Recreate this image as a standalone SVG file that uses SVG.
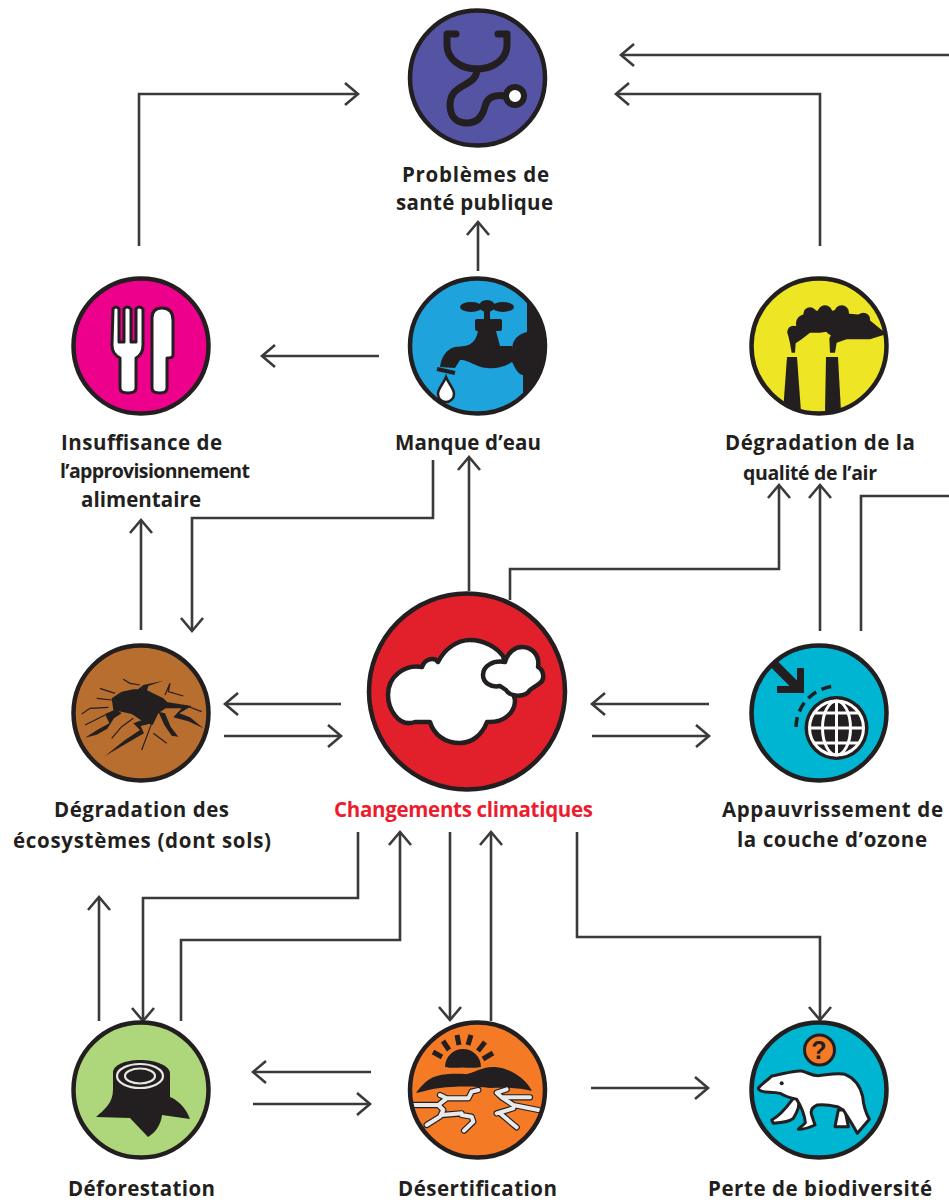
<svg xmlns="http://www.w3.org/2000/svg" width="949" height="1202" viewBox="0 0 949 1202">
<style>
.c{stroke:#231f20;stroke-width:4.5}
.d{fill:#231f20}
.l{font-family:"Open Sans","Liberation Sans",sans-serif;font-weight:700;font-size:20.5px;fill:#231f20;text-anchor:middle}
.a{fill:none;stroke:#3a3a3c;stroke-width:2.6;marker-end:url(#h)}
.s{fill:none;stroke:#231f20}
</style>
<defs>
<marker id="h" markerUnits="userSpaceOnUse" markerWidth="30" markerHeight="30" refX="15" refY="15" orient="auto" overflow="visible"><path d="M2,4 L15,15 L2,26" fill="none" stroke="#3a3a3c" stroke-width="2.6"/></marker>
</defs>
<rect width="949" height="1202" fill="#fff"/>
<g id="connectors">
<path class="a" d="M949,55H621"/>
<path class="a" d="M820,246V94H616"/>
<path class="a" d="M139,246V94H358"/>
<path class="a" d="M478,271V222"/>
<path class="a" d="M379,356H262"/>
<path class="a" d="M469,591V457"/>
<path class="a" d="M433,460V518H192V631"/>
<path class="a" d="M141,630V520"/>
<path class="a" d="M510,600V569H779V485"/>
<path class="a" d="M820,631V485"/>
<path class="a" d="M861,631V496H949" style="marker-end:none"/>
<path class="a" d="M341,704H225"/>
<path class="a" d="M224,736H341"/>
<path class="a" d="M709,704H592"/>
<path class="a" d="M592,736H709"/>
<path class="a" d="M358,832V898H143V1021"/>
<path class="a" d="M99,1021V897"/>
<path class="a" d="M181,1021V940H400V832"/>
<path class="a" d="M450,832V1020"/>
<path class="a" d="M491,1021V832"/>
<path class="a" d="M577,832V937H820V1020"/>
<path class="a" d="M371,1072H253"/>
<path class="a" d="M253,1104H370"/>
<path class="a" d="M591,1088H708"/>
</g>
<g id="sante">
<circle class="c" cx="477.5" cy="78" r="67.5" fill="#5553a3"/>
<path class="s" stroke-width="7" stroke-linecap="round" stroke-linejoin="round" d="M456,34H447V45C447,60 462,69 477,69C492,69 507,60 507,45V34H498"/>
<path class="s" stroke-width="7" stroke-linecap="round" d="M477,69C477,88 450,82 450,105C450,118 458,123 467,123C478,123 483,115 485,106C487,97 495,94 506,96"/>
<circle cx="515" cy="96" r="9" fill="#fff" stroke="#231f20" stroke-width="6"/>
<text class="l" x="475.500" y="182" textLength="147">Problèmes de</text>
<text class="l" x="474.500" y="210" textLength="157">santé publique</text>
</g>
<g id="alimentaire">
<circle class="c" cx="141" cy="346" r="67.5" fill="#ec008c"/>
<path fill="#fff" stroke="#231f20" stroke-width="3" stroke-linejoin="round" d="M113,309Q116,305 119,309V342H124V309Q127,305 131,309V342H136V309Q139,305 143,309V345C143,352 140,356 136,358V388Q136,393 128,393Q120,393 120,388V358C115,355 112,352 112,345Z"/>
<path fill="#fff" stroke="#231f20" stroke-width="3" stroke-linejoin="round" d="M152,318Q152,308 162,308Q173,308 173,320V355Q173,358 167,358V388Q167,393 160,393Q152,393 152,388Z"/>
<text class="l" x="141.500" y="450" textLength="161">Insuffisance de</text>
<text class="l" x="155" y="478" textLength="190" style="font-size:19.5px">l’approvisionnement</text>
<text class="l" x="141" y="507" textLength="120">alimentaire</text>
</g>
<g id="eau">
<clipPath id="ce"><circle cx="477.5" cy="346" r="67.5"/></clipPath>
<circle cx="477.5" cy="346" r="67.5" fill="#1fa3dc"/>
<g clip-path="url(#ce)">
<path class="d" d="M527,298V332C518,334 512,340 512,350V362C516,370 519,375 523,375V416H560V298Z"/>
</g>
<ellipse class="d" cx="471" cy="307" rx="11" ry="5"/><ellipse class="d" cx="503" cy="307" rx="11" ry="5"/>
<ellipse class="d" cx="487" cy="306" rx="8" ry="6"/>
<rect class="d" x="484" y="310" width="6" height="10"/>
<rect class="d" x="475" y="319" width="27" height="12" rx="2"/>
<path class="d" d="M478,331H496L500,346H512V362C505,367 495,369 487,368C475,367 468,359 460,360L455,368L440,367C441,358 446,349 455,347C465,346 475,347 478,331Z"/>
<path d="M437,369L455,373" stroke="#231f20" stroke-width="4"/>
<path d="M446,377C449,385 454,388 454,394A8,8 0 0 1 438,394C438,388 443,385 446,377Z" fill="#fff" stroke="#231f20" stroke-width="2.5"/>
<circle class="c" cx="477.5" cy="346" r="67.5" fill="none"/>
<text class="l" x="468" y="450" textLength="146">Manque d’eau</text>
</g>
<g id="air">
<clipPath id="ca"><circle cx="819" cy="346" r="67.5"/></clipPath>
<circle cx="819" cy="346" r="67.5" fill="#eee625"/>
<g clip-path="url(#ca)" class="d">
<path d="M787,357H797L801,412H783Z"/><path d="M826,357H838L841,412H825Z"/>
<g transform="translate(730,260) scale(.33333)">
<circle cx="190" cy="215" r="18"/><circle cx="240" cy="162" r="20"/><circle cx="285" cy="158" r="22"/><circle cx="335" cy="158" r="22"/><circle cx="400" cy="178" r="20"/><circle cx="225" cy="190" r="27"/><circle cx="320" cy="190" r="40"/>
<path d="M185,278L180,250L172,215L200,195L240,150L400,165L470,222L420,238L350,238L320,248L315,278H300L298,235L310,212L270,218L240,218L215,238L197,250L195,278Z"/>
</g>
</g>
<circle class="c" cx="819" cy="346" r="67.5" fill="none"/>
<text class="l" x="820" y="450" textLength="190">Dégradation de la</text>
<text class="l" x="810" y="480" textLength="134" style="font-size:19.5px">qualité de l’air</text>
</g>
<g id="ecosystemes">
<circle class="c" cx="141" cy="713" r="67.5" fill="#b76e2f"/>
<g transform="translate(50,630) scale(.33333)">
<path class="d" d="M185,205L215,185L250,178L285,178L340,205L360,225L325,250L308,285L280,275L245,252L190,240Z"/>
<path class="d" d="M198,238L165,252L178,280L145,298L105,323L140,314L172,296L192,265L215,250Z"/>
<path class="d" d="M300,262L250,280L270,300L225,330L165,378L238,335L282,310L272,288L305,280Z"/>
<path class="d" d="M345,215L425,228L388,250L420,262L460,295L415,274L370,262L395,235L335,235Z"/>
<path class="d" d="M325,245L345,250L362,290L385,320L365,317L343,285Z"/>
<path class="d" d="M255,185L280,165L340,152L295,168L290,185Z"/>
<path fill="none" stroke="#231f20" stroke-width="3.5" d="M195,190L150,175M185,210L140,205M175,232L120,235L95,252M165,255L125,275L105,285M270,165L240,160L220,148M345,195L360,160L355,185L400,198M410,228L455,245M305,280L275,360M310,310L350,340M250,265L215,290L185,325"/>
</g>
<text class="l" x="141.500" y="817" textLength="175">Dégradation des</text>
<text class="l" x="142" y="848" textLength="258">écosystèmes (dont sols)</text>
</g>
<g id="climat">
<circle cx="467" cy="691.5" r="98" fill="#e2202c" stroke="#231f20" stroke-width="4.5"/>
<path fill="#fff" stroke="#231f20" stroke-width="4.5" stroke-linejoin="round" d="M415,722C398,728 388,708 388,695C388,676 405,664 422,667C425,658 435,657 438,662C445,648 458,640 470,640C485,640 497,648 503,656L515,700C515,712 505,723 487,722C482,735 472,743 460,743C445,743 434,735 430,722Z"/>
<path fill="#fff" stroke="#231f20" stroke-width="4.5" stroke-linejoin="round" d="M500,686C490,688 483,682 483,675C483,666 493,660 505,662C508,652 515,647 522,647C532,647 540,655 538,667C544,670 545,680 540,683C535,687 532,688 530,690C525,698 510,697 506,690Z"/>
<text x="463.500" y="817" class="l" style="fill:#ed1c2e" textLength="259">Changements climatiques</text>
</g>
<g id="ozone">
<clipPath id="co"><circle cx="819" cy="713" r="67.5"/></clipPath>
<circle cx="819" cy="713" r="67.5" fill="#00b5d1"/>
<path d="M770,660L798,688" stroke="#231f20" stroke-width="9" clip-path="url(#co)"/>
<path class="d" d="M797,668H804V693H777V686H797Z"/>
<path class="s" stroke-width="3.5" stroke-dasharray="10 6" d="M796,727A42,42 0 0 1 836,686"/>
<circle cx="836.500" cy="728" r="32" fill="#231f20"/>
<circle cx="836.500" cy="728" r="27" fill="#231f20" stroke="#fff" stroke-width="3"/>
<g fill="none" stroke="#fff" stroke-width="3">
<path d="M809,728H863M836.500,701V755M814,713H858M814,743H858"/>
<ellipse cx="836.500" cy="728" rx="14" ry="27"/>
</g>
<circle class="c" cx="819" cy="713" r="67.5" fill="none"/>
<text class="l" x="832.500" y="817" textLength="221">Appauvrissement de</text>
<text class="l" x="832" y="847" textLength="190">la couche d’ozone</text>
</g>
<g id="deforestation">
<circle class="c" cx="141" cy="1090" r="67.5" fill="#aed67a"/>
<path class="d" d="M113,1073C113,1065 125,1060 140,1060C156,1060 170,1066 170,1073V1097C178,1100 186,1108 190,1119L162,1115C161,1125 155,1133 148,1137L130,1118L96,1117C104,1110 113,1103 113,1090Z"/>
<g fill="none" stroke="#e8e8e0" stroke-width="2.2">
<ellipse cx="140" cy="1076" rx="23" ry="12"/><ellipse cx="140" cy="1076" rx="15" ry="7.5"/>
</g>
<text class="l" x="141.500" y="1196" textLength="147">Déforestation</text>
</g>
<g id="desertification">
<clipPath id="cd"><circle cx="477.5" cy="1090" r="67.5"/></clipPath>
<circle cx="477.5" cy="1090" r="67.5" fill="#f47a26"/>
<path class="d" d="M445,1067A18,18 0 0 1 481,1067C475,1068 470,1068 463,1067.5C455,1068 450,1068 445,1067Z"/>
<path class="s" stroke-width="5" d="M433,1052L442,1057M443,1041L449,1050M457,1035L459,1045M471,1035L468,1045M485,1042L478,1051M493,1053L483,1059"/>
<path class="d" d="M416,1093C422,1085 428,1078 437,1076C447,1073 460,1074 467,1074C475,1072 485,1066 495,1067C510,1068 525,1078 532,1091C520,1088 505,1087 490,1088C475,1086 455,1086 440,1088C430,1089 422,1092 416,1093Z"/>
<g clip-path="url(#cd)"><g transform="translate(390,1010) scale(.33333)" fill="none" stroke-linejoin="round" stroke-linecap="round">
<path stroke="#231f20" stroke-width="19" d="M70,285L145,285L170,265L150,255M145,285L160,300L150,320L110,345M170,265L235,265L245,245L265,240M350,238L320,248L335,262L420,262M335,262L370,285L445,300M330,310L380,352M370,295L320,310M215,315L245,320L250,335L222,362M155,315L215,310"/>
<path stroke="#e9e9e9" stroke-width="12" d="M70,285L145,285L170,265L150,255M145,285L160,300L150,320L110,345M170,265L235,265L245,245L265,240M350,238L320,248L335,262L420,262M335,262L370,285L445,300M330,310L380,352M370,295L320,310M215,315L245,320L250,335L222,362M155,315L215,310"/>
</g></g>
<circle class="c" cx="477.5" cy="1090" r="67.5" fill="none"/>
<text class="l" x="477.500" y="1196" textLength="159">Désertification</text>
</g>
<g id="biodiversite">
<circle class="c" cx="819" cy="1090" r="67.5" fill="#00b5d1"/>
<circle cx="819.500" cy="1050" r="15" fill="#f47a26" stroke="#231f20" stroke-width="3"/>
<text x="819" y="1059" style="font-family:'Liberation Sans',sans-serif;font-weight:700;font-size:25px;fill:#231f20;text-anchor:middle">?</text>
<g transform="translate(730,1010) scale(.33333)">
<path fill="#fff" stroke="#231f20" stroke-width="9" stroke-linejoin="round" d="M190,265C175,285 155,315 125,330L130,340C155,338 180,335 190,325C205,300 210,285 205,265Z"/>
<path fill="#fff" stroke="#231f20" stroke-width="9" stroke-linejoin="round" d="M325,300L315,350L355,350L345,300Z"/>
<path fill="#fff" stroke="#231f20" stroke-width="9" stroke-linejoin="round" d="M85,235C95,220 115,210 125,198C150,195 190,180 215,183C235,188 245,197 265,197C290,195 320,188 345,193C375,205 390,225 398,260C400,285 408,310 418,328L382,370L365,340L340,300L322,290C300,285 280,282 262,285C250,290 240,300 245,315L255,345C240,352 220,358 205,358C210,350 222,345 226,338C225,320 215,290 200,268C185,265 170,262 150,250C130,245 110,248 100,245C92,243 85,240 85,235Z"/>
<circle class="d" cx="155" cy="220" r="6"/>
</g>
<text class="l" x="820" y="1196" textLength="224">Perte de biodiversité</text>
</g>
</svg>
